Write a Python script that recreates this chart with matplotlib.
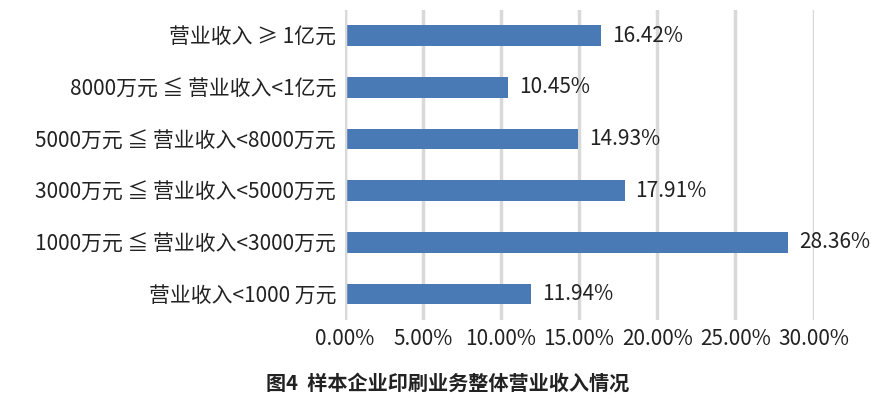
import matplotlib
matplotlib.use("Agg")
import matplotlib.pyplot as plt
from matplotlib.ticker import FuncFormatter

plt.rcParams['font.family'] = ['Noto Sans CJK SC', 'DejaVu Sans']

categories = ["营业收入<1000 万元", "1000万元 ≦ 营业收入<3000万元", "3000万元 ≦ 营业收入<5000万元",
              "5000万元 ≦ 营业收入<8000万元", "8000万元 ≦ 营业收入<1亿元", "营业收入 ≥ 1亿元"]
values = [11.94, 28.36, 17.91, 14.93, 10.45, 16.42]
title = "图4  样本企业印刷业务整体营业收入情况"

fs = 15
fig = plt.figure(figsize=(8.95, 4.08), dpi=100)
ax = fig.add_axes([0.385, 0.216, 0.524, 0.76])
ax.barh(range(len(values)), values, height=0.4, color="#4a7ab5", zorder=3)
for i, v in enumerate(values):
    ax.text(v + 0.7, i, f"{v:.2f}%", va="center", ha="left", fontsize=fs, color="#222222")
ax.set_yticks(range(len(values)))
ax.set_yticklabels(categories, fontsize=fs, color="#222222")
ax.set_xlim(0, 30)
ax.set_ylim(-0.5, 5.5)
ax.set_xticks([0, 5, 10, 15, 20, 25, 30])
ax.xaxis.set_major_formatter(FuncFormatter(lambda x, p: f"{x:.2f}%"))
ax.tick_params(axis='x', labelsize=fs, colors="#222222", length=0, pad=6)
ax.tick_params(axis='y', length=0, pad=6)
ax.grid(axis='x', color="#d9d9d9", linewidth=2.5, zorder=0)
for s in ax.spines.values():
    s.set_visible(False)
ax.axvline(0, color="#d9d9d9", linewidth=2.5, zorder=4)
fig.text(0.5, 0.06, title, ha="center", va="center", fontsize=14.5, fontweight="bold", color="#222222")
fig.savefig("out.png", dpi=100)
